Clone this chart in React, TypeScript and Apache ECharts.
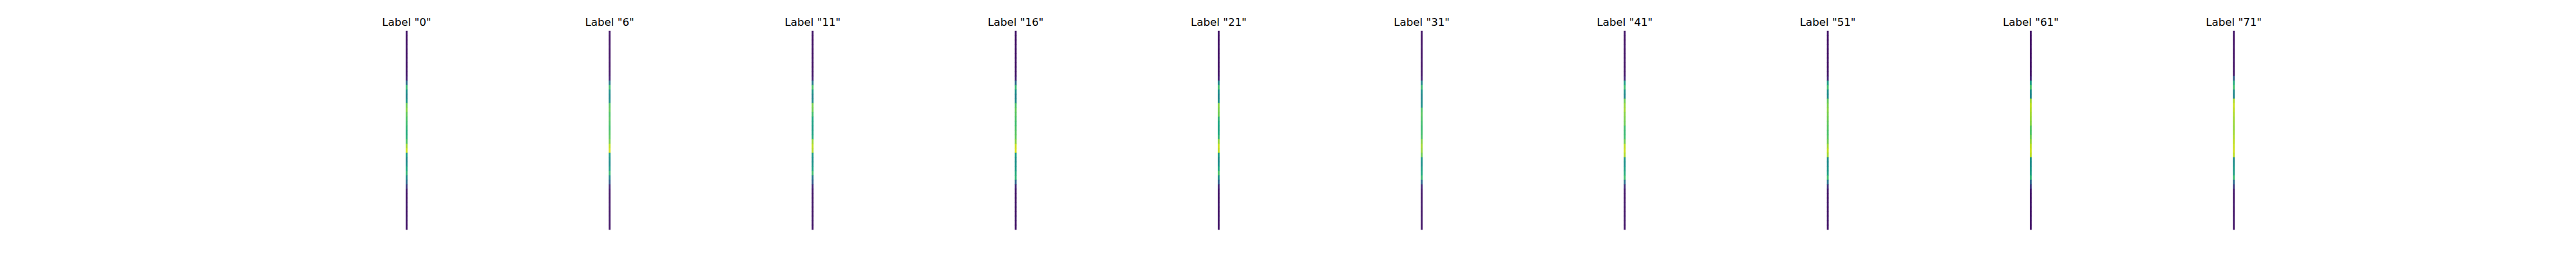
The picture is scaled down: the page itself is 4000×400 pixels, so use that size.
import React, { useEffect, useRef } from "react";
import * as echarts from "echarts";

const labels = ['Label "0"', 'Label "6"', 'Label "11"', 'Label "16"', 'Label "21"', 'Label "31"', 'Label "41"', 'Label "51"', 'Label "61"', 'Label "71"'];

const topPurple = [0.07, 0.06, 0.06, 0.07, 0.06, 0.06, 0.07, 0.06, 0.07, 0.07];
const bottomPurple = [0.08, 0.07, 0.07, 0.08, 0.07, 0.07, 0.08, 0.07, 0.07];

const mid0 = [0.1, 0.35, 0.68, 0.5, 0.45, 0.52, 0.78, 0.82, 0.76, 0.72, 0.7, 0.66, 0.62, 0.64, 0.72, 0.86, 0.92, 0.55, 0.47, 0.5, 0.6, 0.66, 0.48, 0.36, 0.18];
const mid6 = [0.1, 0.4, 0.7, 0.5, 0.46, 0.5, 0.74, 0.76, 0.72, 0.74, 0.72, 0.7, 0.73, 0.75, 0.8, 0.9, 0.93, 0.55, 0.5, 0.48, 0.55, 0.68, 0.45, 0.3, 0.12];
const mid11 = [0.1, 0.4, 0.72, 0.52, 0.45, 0.48, 0.8, 0.78, 0.7, 0.6, 0.58, 0.55, 0.58, 0.62, 0.85, 0.9, 0.88, 0.55, 0.5, 0.52, 0.58, 0.7, 0.4, 0.3, 0.12];
const mid16 = [0.1, 0.35, 0.68, 0.5, 0.44, 0.48, 0.72, 0.76, 0.74, 0.72, 0.7, 0.72, 0.74, 0.76, 0.82, 0.92, 0.94, 0.56, 0.5, 0.52, 0.54, 0.62, 0.66, 0.35, 0.12];
const mid21 = [0.1, 0.45, 0.7, 0.5, 0.45, 0.5, 0.82, 0.8, 0.78, 0.65, 0.6, 0.58, 0.6, 0.66, 0.84, 0.92, 0.9, 0.55, 0.48, 0.5, 0.6, 0.72, 0.5, 0.32, 0.12];
const mid31 = [0.1, 0.45, 0.68, 0.5, 0.46, 0.48, 0.5, 0.72, 0.74, 0.72, 0.7, 0.68, 0.7, 0.72, 0.82, 0.86, 0.84, 0.78, 0.52, 0.5, 0.56, 0.6, 0.68, 0.35, 0.12];
const mid41 = [0.12, 0.55, 0.7, 0.5, 0.46, 0.78, 0.84, 0.86, 0.82, 0.8, 0.78, 0.7, 0.68, 0.7, 0.78, 0.9, 0.92, 0.88, 0.52, 0.5, 0.56, 0.62, 0.7, 0.38, 0.14];
const mid51 = [0.12, 0.55, 0.7, 0.5, 0.48, 0.76, 0.8, 0.82, 0.8, 0.78, 0.76, 0.74, 0.72, 0.74, 0.78, 0.86, 0.9, 0.86, 0.5, 0.48, 0.52, 0.56, 0.7, 0.4, 0.15];
const mid61 = [0.12, 0.55, 0.72, 0.48, 0.46, 0.86, 0.9, 0.88, 0.86, 0.84, 0.82, 0.74, 0.72, 0.78, 0.84, 0.9, 0.92, 0.9, 0.5, 0.48, 0.52, 0.55, 0.66, 0.34, 0.18];
const mid71 = [0.3, 0.62, 0.7, 0.48, 0.46, 0.88, 0.92, 0.9, 0.88, 0.86, 0.85, 0.84, 0.86, 0.88, 0.9, 0.92, 0.93, 0.9, 0.48, 0.5, 0.54, 0.56, 0.68, 0.36, 0.18];

const middles = [mid0, mid6, mid11, mid16, mid21, mid31, mid41, mid51, mid61, mid71];

const viridis = ["#440154", "#482475", "#414487", "#355f8d", "#2a788e", "#21918c", "#22a884", "#44bf70", "#7ad151", "#bddf26", "#fde725"];

export default function App() {
  const ref = useRef<HTMLDivElement>(null);
  useEffect(() => {
    document.body.style.margin = "0";
    if (!ref.current) return;
    const chart = echarts.init(ref.current, undefined, { renderer: "svg" });
    const figW = 4000;
    const axLeft = 0.125 * figW;
    const axRight = 0.9 * figW;
    const n = labels.length;
    const w = (axRight - axLeft) / (n + (n - 1) * 0.2);
    const top = 48;
    const height = 308;
    const stripW = 2.4;

    const grids: any[] = [];
    const xAxes: any[] = [];
    const yAxes: any[] = [];
    const series: any[] = [];
    const graphics: any[] = [];

    labels.forEach((lab, k) => {
      const cx = axLeft + w / 2 + k * w * 1.2;
      const col = [...topPurple.slice(0, 10), ...middles[k], ...bottomPurple];
      const rows = col.map((_, i) => String(i));
      grids.push({ left: cx - stripW / 2, top, width: stripW, height });
      xAxes.push({ type: "category", gridIndex: k, data: ["0"], show: false });
      yAxes.push({ type: "category", gridIndex: k, data: rows, show: false, inverse: true });
      series.push({
        type: "heatmap",
        xAxisIndex: k,
        yAxisIndex: k,
        data: col.map((v, i) => [0, i, v]),
        itemStyle: { borderWidth: 0 },
        emphasis: { disabled: true },
      });
      graphics.push({
        type: "text",
        x: cx,
        y: 34,
        style: {
          text: lab,
          fill: "#000000",
          font: '16.67px "DejaVu Sans"',
          textAlign: "center",
          textVerticalAlign: "middle",
        },
      });
    });

    chart.setOption({
      animation: false,
      backgroundColor: "#ffffff",
      grid: grids,
      xAxis: xAxes,
      yAxis: yAxes,
      visualMap: {
        type: "continuous",
        show: false,
        min: 0,
        max: 1,
        inRange: { color: viridis },
      },
      series,
      graphic: graphics,
    });
    return () => chart.dispose();
  }, []);
  return <div ref={ref} style={{ width: 4000, height: 400 }} />;
}
